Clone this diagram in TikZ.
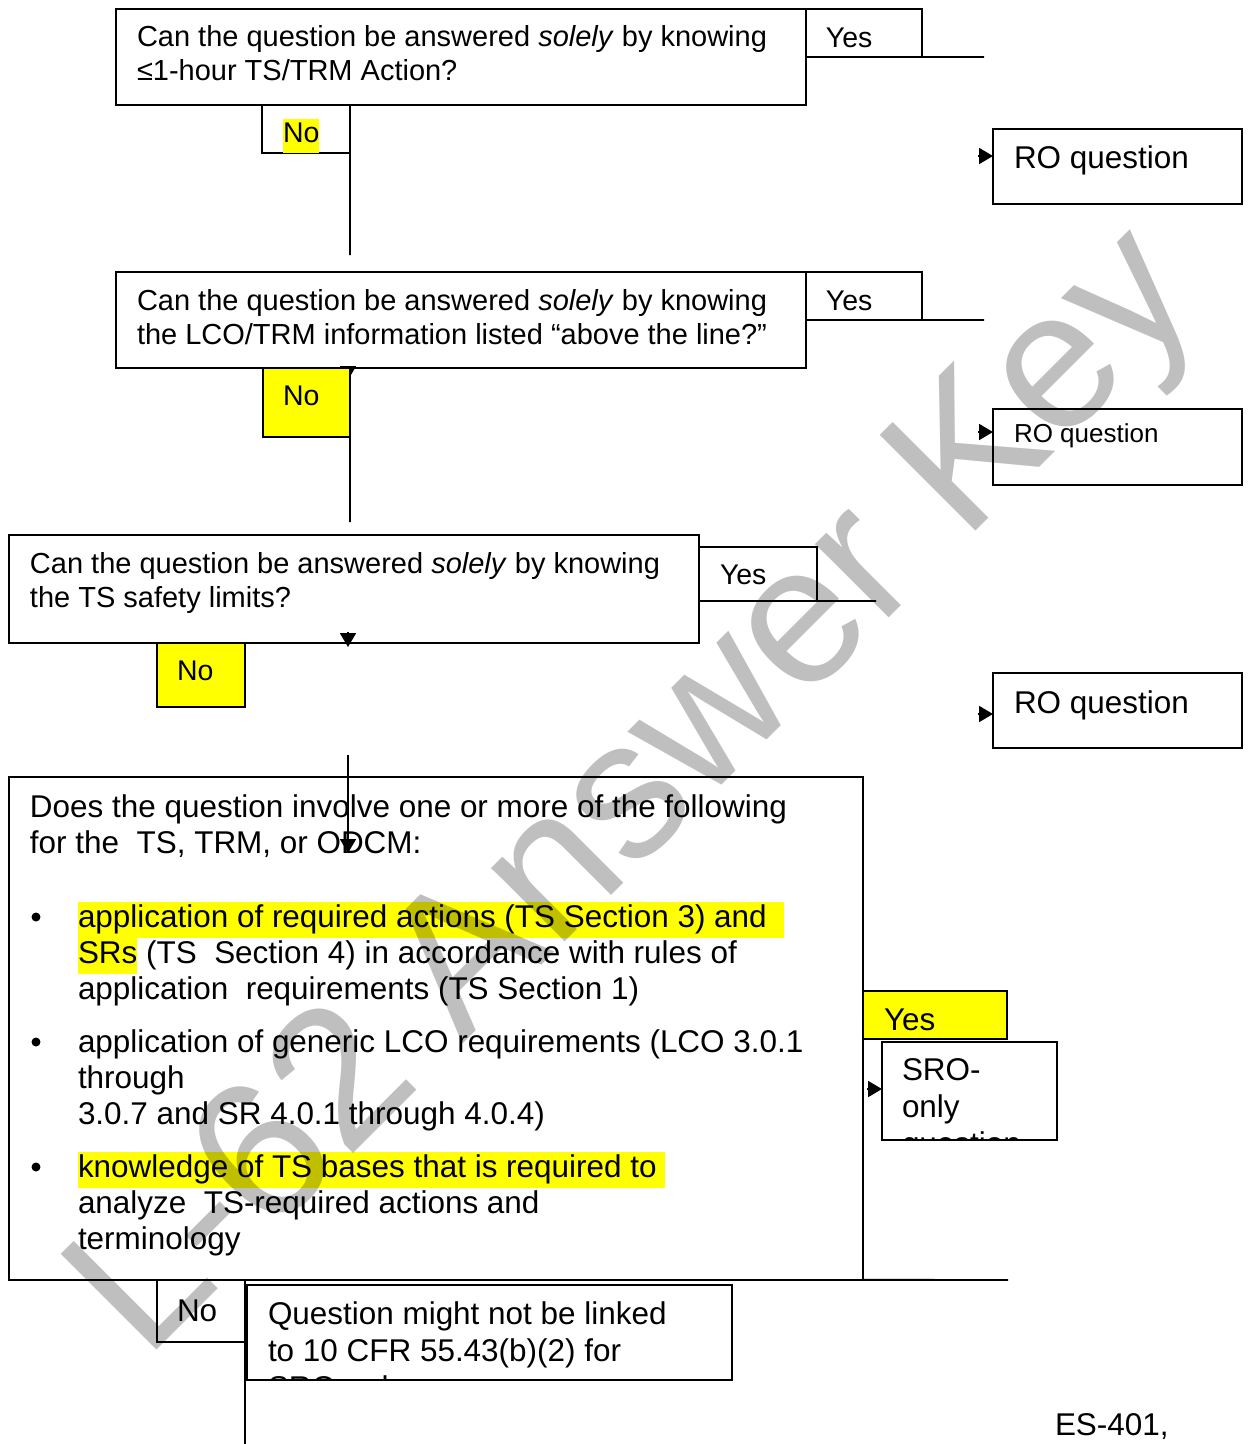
\documentclass[tikz,border=0pt]{standalone}
\usepackage{fontspec}
\setmainfont{Liberation Sans}
\usetikzlibrary{arrows.meta,positioning}

\definecolor{hlyellow}{HTML}{FFFF00}
\newcommand\fq{\fontsize{16.5}{19.35}\selectfont}
\newcommand\fsm{\fontsize{16.2}{19.35}\selectfont}
\newcommand\flg{\fontsize{17.9}{20.5}\selectfont}
\newcommand\fbx{\fontsize{17.9}{21}\selectfont}
\newcommand\fro{\fontsize{14.8}{17}\selectfont}
\newcommand\hlt[1]{{\setlength\fboxsep{0pt}\colorbox{hlyellow}{\strut#1}}}

\tikzset{
  box/.style={draw, line width=1.1pt, inner sep=0pt, outer sep=0pt, anchor=north west},
  txt/.style={inner sep=0pt, outer sep=0pt, anchor=north west, align=left},
  con/.style={line width=1.1pt},
  tip/.style={-{Triangle[length=0.28cm,width=0.32cm]}, line width=1.1pt}
}

\begin{document}
\begin{tikzpicture}[x=0.02cm, y=-0.02cm]
        \useasboundingbox (0,0) rectangle (1248,1444);
        % First question
        \node[box, minimum width=13.8cm, minimum height=1.92cm] (q1) at (116,9) {};
        \node[txt, font=\fq] (q1t) at ([shift={(21,14)}]q1.north west)
            {\strut Can the question be answered \textit{solely} by knowing\\≤1-hour TS/TRM Action?};
        \node[box, minimum width=2.32cm, minimum height=0.96cm] (yes1) at (q1.north east) {};
        \node[txt, font=\fsm] (yes1t) at ([shift={(20,15)}]yes1.north west) {\strut Yes};
        \node[box, minimum width=1.76cm, minimum height=0.96cm] (no1) at (262,105) {};
        \node[txt, font=\fsm] (no1t) at ([shift={(21,14)}]no1.north west) {\hlt{No}};
        \node[box, minimum width=4.98cm, minimum height=1.5cm] (ro1) at (993,129) {};
        \node[txt, font=\fbx] (ro1t) at ([shift={(21,14)}]ro1.north west) {\strut RO question};
        \coordinate (y1end) at (984,57);
        \coordinate (n1end) at (350,255);
        \coordinate (ro1tip) at ([shift={(0,27)}]ro1.north west);
        \draw[con] (yes1.south west) -- (y1end);
        \draw[con] (no1.south east) -- (n1end);
        \draw[tip] ([shift={(-15,0)}]ro1tip) -- (ro1tip);
        % Second question
        \node[box, minimum width=13.8cm, minimum height=1.92cm] (q2) at (116,272) {};
        \node[txt, font=\fq] (q2t) at ([shift={(21,15)}]q2.north west)
            {\strut Can the question be answered \textit{solely} by knowing\\the LCO/TRM information listed “above the line?”};
        \node[box, minimum width=2.32cm, minimum height=0.96cm] (yes2) at (q2.north east) {};
        \node[txt, font=\fsm] (yes2t) at ([shift={(20,15)}]yes2.north west) {\strut Yes};
        \coordinate (t2) at (348,380);
        \draw[tip] ([shift={(0,-14)}]t2) -- (t2);
        \node[box, fill=hlyellow, minimum width=1.74cm, minimum height=1.38cm] (no2) at (263,368) {};
        \node[txt, font=\fsm] (no2t) at ([shift={(20,14)}]no2.north west) {\strut No};
        \node[box, minimum width=4.98cm, minimum height=1.52cm] (ro2) at (993,409) {};
        \node[txt, font=\fro] (ro2t) at ([shift={(21,13)}]ro2.north west) {\strut RO question};
        \coordinate (y2end) at (984,320);
        \coordinate (n2end) at (350,522);
        \coordinate (ro2tip) at ([shift={(0,23)}]ro2.north west);
        \draw[con] (yes2.south west) -- (y2end);
        \draw[con] (no2.south east) -- (n2end);
        \draw[tip] ([shift={(-15,0)}]ro2tip) -- (ro2tip);
        % Third question
        \node[box, minimum width=13.8cm, minimum height=2.16cm] (q3) at (9,535) {};
        \node[txt, font=\fq] (q3t) at ([shift={(21,15)}]q3.north west)
            {\strut Can the question be answered \textit{solely} by knowing\\the TS safety limits?};
        \node[box, minimum width=2.36cm, minimum height=1.08cm] (yes3) at (699,547) {};
        \node[txt, font=\fsm] (yes3t) at ([shift={(21,14)}]yes3.north west) {\strut Yes};
        \node[box, fill=hlyellow, minimum width=1.76cm, minimum height=1.28cm] (no3) at (157,643) {};
        \node[txt, font=\fsm] (no3t) at ([shift={(20,14)}]no3.north west) {\strut No};
        \node[box, minimum width=4.98cm, minimum height=1.5cm] (ro3) at (993,673) {};
        \node[txt, font=\fbx] (ro3t) at ([shift={(21,15)}]ro3.north west) {\strut RO question};
        \coordinate (y3end) at (876,601);
        \coordinate (t3) at (348,647);
        \coordinate (ro3tip) at ([shift={(0,41)}]ro3.north west);
        \draw[con] (yes3.south west) -- (y3end);
        \draw[tip] ([shift={(0,-15)}]t3) -- (t3);
        \draw[tip] ([shift={(-15,0)}]ro3tip) -- (ro3tip);
        % SRO screening box
        \node[box, minimum width=17.08cm, minimum height=10.06cm] (big) at (9,777) {};
        \node[txt, font=\flg] (bigt) at ([shift={(21,15)}]big.north west)
            {\strut Does the question involve one or more of the following\\for the\ \ TS, TRM, or ODCM:};
        \node[txt, font=\flg] (item1) at (78,902)
            {\hlt{application of required actions (TS Section 3) and\ \ }\\\hlt{SRs} (TS\ \ Section 4) in accordance with rules of\\application\ \ requirements (TS Section 1)};
        \node[txt, font=\flg] (item2) at (78,1027)
            {\strut application of generic LCO requirements (LCO 3.0.1\\through\\3.0.7 and SR 4.0.1 through 4.0.4)};
        \node[txt, font=\flg] (item3) at (78,1152)
            {\hlt{knowledge of TS bases that is required to }\\analyze\ \ TS-required actions and\\terminology};
        \foreach \by in {917,1042,1167}
            \fill (36,\by) circle[radius=0.09cm];
        \coordinate (d3a) at (348,755);
        \coordinate (d3b) at (348,853);
        \draw[tip] (d3a) -- (d3b);
        % Yes / No of the last question
        \node[box, fill=hlyellow, minimum width=2.88cm, minimum height=0.96cm] (yes4) at (863,991) {};
        \node[txt, font=\flg] (yes4t) at ([shift={(21,14)}]yes4.north west) {\strut Yes};
        \node[box, minimum width=3.5cm, minimum height=1.96cm] (sro) at (882,1042) {};
        \begin{scope}
            \clip (sro.north west) rectangle (sro.south east);
            \node[txt, font=\fbx] (srot) at ([shift={(20,13)}]sro.north west) {\strut SRO-\\only\\question};
        \end{scope}
        \coordinate (srotip) at ([shift={(0,47)}]sro.north west);
        \draw[tip] ([shift={(-15,0)}]srotip) -- (srotip);
        \coordinate (y4end) at (1008,1280);
        \draw[con] (big.south east) -- (y4end);
        \node[box, minimum width=1.76cm, minimum height=1.24cm] (no4) at (157,1280) {};
        \node[txt, font=\flg] (no4t) at ([shift={(20,16)}]no4.north west) {\strut No};
        \node[box, minimum width=9.7cm, minimum height=1.9cm] (notsro) at (247,1285) {};
        \begin{scope}
            \clip (notsro.north west) rectangle (notsro.south east);
            \node[txt, font=\fbx] (notsrot) at ([shift={(21,14)}]notsro.north west)
                {\strut Question might not be linked\\to 10 CFR 55.43(b)(2) for\\SRO-only};
        \end{scope}
        \coordinate (n4end) at (245,1444);
        \draw[con] (no4.north east) -- (n4end);
        \node[txt, font=\fbx] (esref) at (1055,1410) {\strut ES-401,};
        % Watermark
        \node[rotate=45, anchor=base west, inner sep=0pt, text=black, text opacity=0.25,
            font=\fontsize{112}{120}\selectfont] (mark) at (145,1362) {L-62 Answer Key};
\end{tikzpicture}
\end{document}
